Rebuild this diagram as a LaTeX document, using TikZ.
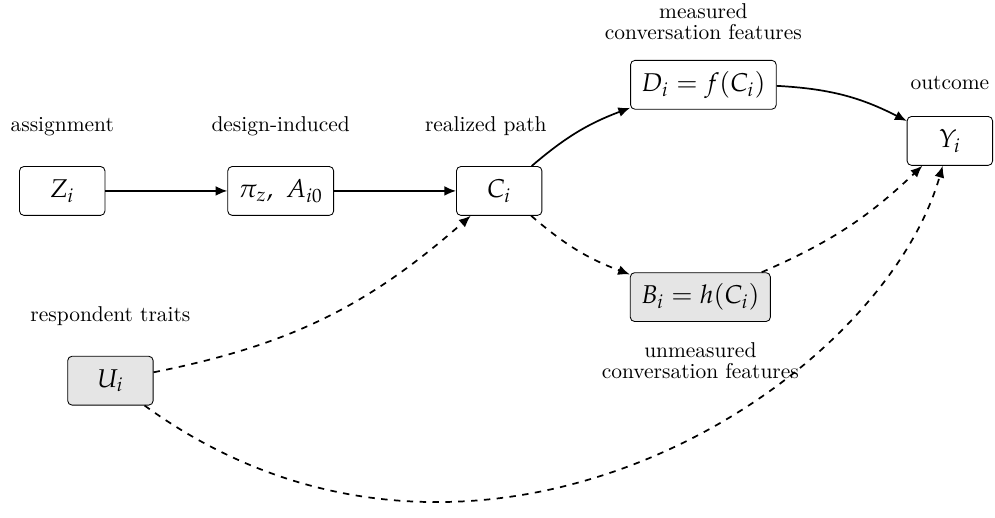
\documentclass[tikz,border=0pt]{standalone}
\usepackage{amsmath}
\usepackage{mathpazo}
\usepackage{tikz}
\usetikzlibrary{arrows.meta,positioning}

\begin{document}
\begin{tikzpicture}[->,>={Latex[length=5.5pt,width=4.6pt]},auto,node distance=2cm,
                    thick]
  \tikzstyle{var}=[draw,thin,rounded corners=2pt,fill=white,font=\large,
                   minimum width=1.4cm,minimum height=0.8cm,inner sep=5pt]
  \tikzstyle{hidden}=[var,fill=black!10]
  \tikzstyle{lbl}=[align=center]

  \useasboundingbox (-1.02,-5.36) rectangle (15.29,3.13);

  \node[var]    (Z)              {$Z_i$};
  \node[var]    (P) [right=of Z] {$\pi_z,\ A_{i0}$};
  \node[var]    (C) [right=of P] {$C_i$};
  \node[var]    (D) at (10.51,1.74)  {$D_i = f(C_i)$};
  \node[hidden] (B) at (10.46,-1.74) {$B_i = h(C_i)$};
  \node[var]    (Y) at (14.55,0.82)  {$Y_i$};
  \node[hidden] (U) at (0.79,-3.11)  {$U_i$};

  % labels
  \node[lbl] (lZ) [above=0.36cm of Z] {assignment};
  \node[lbl] (lP) [above=0.36cm of P] {design-induced};
  \node[lbl] (lC) [above=0.36cm of C, xshift=-0.22cm] {realized path};
  \node[lbl] (lD) [above=0.2cm of D] {measured\\[-2pt]conversation features};
  \node[lbl] (lB) [below=0.2cm of B] {unmeasured\\[-2pt]conversation features};
  \node[lbl] (lY) [above=0.3cm of Y] {outcome};
  \node[lbl] (lU) [above=0.36cm of U] {respondent traits};

  \path (Z) edge (P)
        (P) edge (C)
        (C) edge [bend left=10] (D)
        (D) edge [bend left=12] (Y)
        (C) edge [dashed,bend right=10] (B)
        (B) edge [dashed,bend right=10] (Y)
        (U) edge [dashed,bend right=15] (C)
        (U) edge [dashed,out=-36,in=-106,out looseness=1.25,in looseness=0.72] (Y);

\end{tikzpicture}
\end{document}
